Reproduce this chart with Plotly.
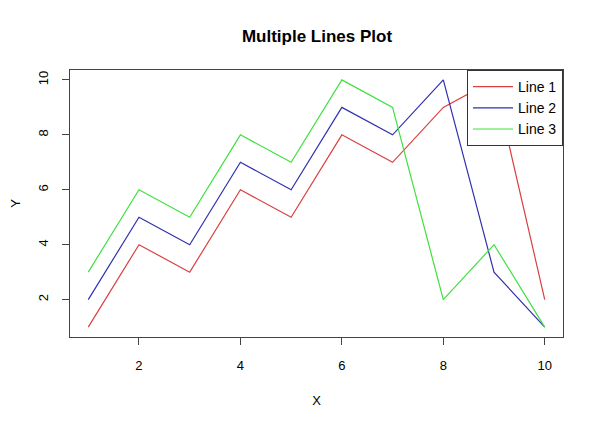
import plotly.graph_objects as go

x = [1, 2, 3, 4, 5, 6, 7, 8, 9, 10]
line1 = [1, 4, 3, 6, 5, 8, 7, 9, 10, 2]
line2 = [2, 5, 4, 7, 6, 9, 8, 10, 3, 1]
line3 = [3, 6, 5, 8, 7, 10, 9, 2, 4, 1]
names = ["Line 1", "Line 2", "Line 3"]
colors = ["#D94040", "#3030B0", "#40E040"]

fig = go.Figure()
for ys, n, c in zip([line1, line2, line3], names, colors):
    fig.add_trace(go.Scatter(x=x, y=ys, mode="lines", name=n,
                             line=dict(color=c, width=1.2)))

font = "Liberation Sans, Arial, sans-serif"
axis_common = dict(
    range=[0.64, 10.36], tickvals=[2, 4, 6, 8, 10], automargin=False,
    showgrid=False, zeroline=False, showline=True, mirror=True,
    linecolor="#444444", linewidth=1, ticks="outside", ticklen=7,
    tickcolor="#444444", ticklabelstandoff=9, tickfont=dict(size=13),
)
# page body adds an 8px offset, margins compensate for it
fig.update_layout(
    width=600, height=427,
    margin=dict(l=62, r=45, t=62, b=98),
    paper_bgcolor="white", plot_bgcolor="white",
    font=dict(family=font, size=13, color="black"),
    title=dict(text="<b>Multiple Lines Plot</b>", x=309 / 600, xanchor="center",
               y=1 - 28 / 427, yanchor="middle", font=dict(size=17, family=font)),
    showlegend=True,
    legend=dict(x=1, xanchor="right", y=1, yanchor="top",
                bgcolor="white", bordercolor="#333333", borderwidth=1,
                font=dict(size=14, family=font), tracegroupgap=0,
                itemwidth=40),
    xaxis=dict(**axis_common, title=dict(text="X", standoff=24, font=dict(size=13))),
    yaxis=dict(**axis_common, tickangle=-90,
               title=dict(text="Y", standoff=29, font=dict(size=13))),
)

fig.write_html("out.html")
